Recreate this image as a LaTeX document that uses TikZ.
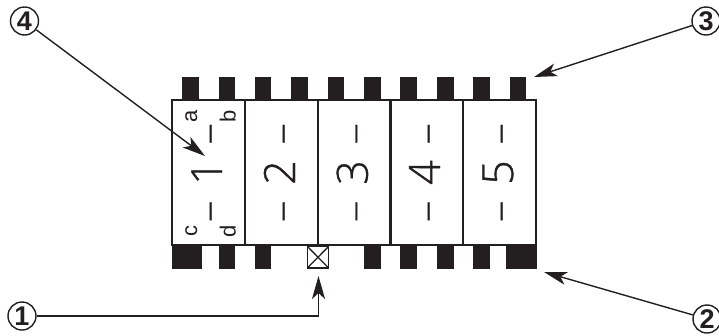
\documentclass[tikz,border=0pt]{standalone}
\usepackage{fontspec}
\setmainfont{Liberation Sans}
\newfontfamily\lightfont[FakeBold=0.8]{Open Sans Light}
\usetikzlibrary{arrows.meta}
\definecolor{ink}{HTML}{231F20}
\newcommand{\bigdigit}[1]{{\fontsize{43}{43}\selectfont #1}}
\tikzset{
  cell/.style={draw=ink,line width=1.8pt,fill=white,minimum width=72.7pt,minimum height=145pt,inner sep=0pt,outer sep=0pt},
  pin/.style={fill=ink,draw=none,minimum height=24pt,minimum width=16.6pt,inner sep=0pt,outer sep=0pt},
  bigpin/.style={pin,minimum width=30.5pt},
  biglabel/.style={rotate=90,anchor=base,inner sep=0pt,text=ink,font=\fontsize{42}{42}\selectfont\lightfont},
  smalllabel/.style={rotate=90,anchor=base,inner sep=0pt,text=ink,font=\fontsize{22}{22}\selectfont},
  callout/.style={draw=ink,circle,line width=1.4pt,minimum size=28pt,inner sep=0pt,fill=white,text=ink,font=\fontsize{27}{27}\selectfont\bfseries},
  leader/.style={draw=ink,line width=1.4pt,-{Stealth[length=23pt,width=13pt,inset=6pt]}},
}
\begin{document}
\begin{tikzpicture}[x=1pt,y=-1pt]
\useasboundingbox (0,0) rectangle (719,335);
% pins
\foreach \n/\x in {1/190.3,2/226.8,3/263,4/299.7,5/336,6/372.4,7/408.7,8/445.2,9/481.7,10/518}
  \node[pin] (t\n) at (\x,88.5) {};
\node[bigpin] (b1) at (186.9,257) {};
\foreach \n/\x in {2/226.8,3/263,5/372.4,6/408.7,7/445.2,8/481.7}
  \node[pin] (b\n) at (\x,257) {};
\node[pin,minimum width=31pt] (b9) at (521.5,257) {};
% cells
\foreach \n/\x in {1/208.6,2/281.3,3/354,4/427,5/499.9}
  \node[cell] (c\n) at (\x,172.5) {};
% crossed box
\node[draw=ink,line width=1.4pt,fill=white,minimum width=21.2pt,minimum height=21.5pt,inner sep=0pt,outer sep=0pt] (x) at (318,257.2) {};
\draw[ink,line width=1.3pt] (x.north west) -- (x.south east) (x.north east) -- (x.south west);
% labels
\foreach \n/\x in {1/222,2/295,3/367.7,4/440,5/513}
  \node[biglabel] (l\n) at (\x,172.5) {–\hspace{16pt}\bigdigit{\n}\hspace{16pt}–};
\node[smalllabel] (la) at (197,116.5) {a};
\node[smalllabel] (lb) at (235.7,116.5) {b};
\node[smalllabel] (lc) at (197,231) {c};
\node[smalllabel] (ld) at (235.7,231) {d};
% callouts
\node[callout] (n1) at (22,316) {1};
\node[callout] (n2) at (707,319) {2};
\node[callout] (n3) at (706,21) {3};
\node[callout] (n4) at (24.5,21) {4};
\coordinate (p1) at (318.5,276);
\coordinate (p2) at (544,272);
\coordinate (p3) at (534,77);
\coordinate (p4) at (205,156);
\draw[leader] (n1) -| (p1);
\draw[leader] (n2) -- (p2);
\draw[leader] (n3) -- (p3);
\draw[leader] (n4) -- (p4);
\end{tikzpicture}
\end{document}
